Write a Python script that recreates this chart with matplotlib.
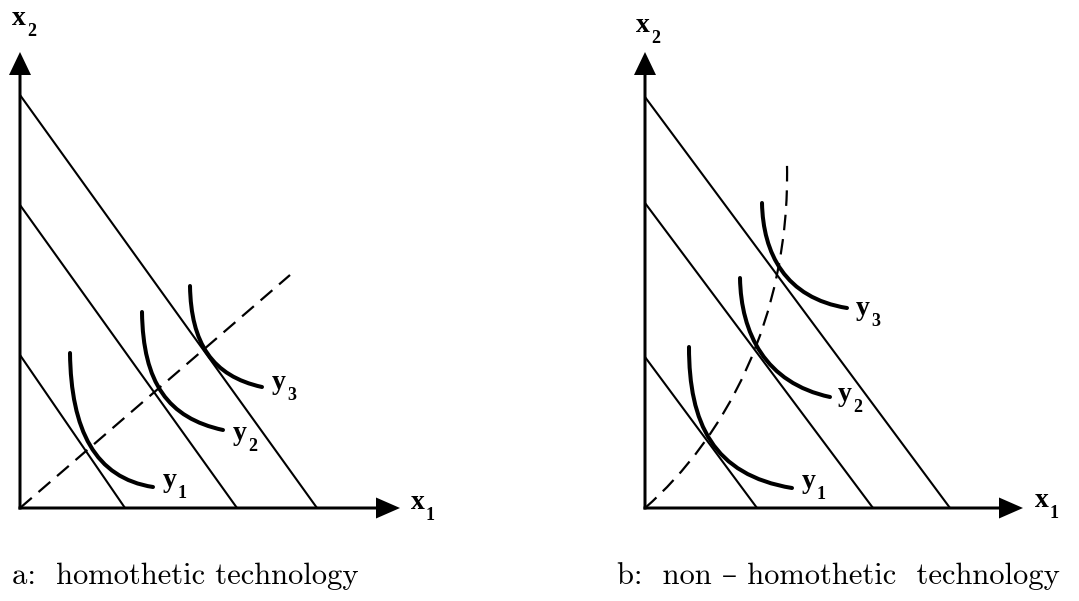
import matplotlib.pyplot as plt
from matplotlib.path import Path
from matplotlib.patches import PathPatch

# diagram units: 1 unit = 10 px, each panel's origin at the axes corner
# budget (isocost) lines: intercepts on x1 and x2 axes
left_budget_x = [10.5, 21.7, 29.7]
left_budget_y = [15.3, 30.3, 41.3]
right_budget_x = [11.2, 22.8, 30.5]
right_budget_y = [15.1, 30.5, 41.1]

# expansion paths (left: straight ray, right: cubic bezier control points)
left_expansion = [(0.0, 0.0), (27.0, 23.3)]
right_expansion = [(0.0, 0.0), (8.0, 7.0), (14.5, 19.0), (14.2, 34.3)]

# isoquants as cubic bezier control points
left_y1 = [(5.0, 15.5), (5.1, 7.8), (7.5, 3.0), (13.3, 2.1)]
left_y2 = [(12.2, 19.6), (12.3, 12.5), (14.8, 9.0), (20.3, 7.8)]
left_y3 = [(17.0, 22.2), (17.1, 16.5), (19.2, 13.2), (24.2, 12.1)]
right_y1 = [(4.4, 16.1), (4.4, 8.5), (6.8, 3.3), (14.7, 2.0)]
right_y2 = [(9.5, 23.0), (9.6, 17.5), (12.0, 12.5), (18.5, 11.1)]
right_y3 = [(11.7, 30.5), (11.8, 25.5), (14.0, 21.0), (20.2, 20.0)]

iso_names = ["1", "2", "3"]
captions = ["a:  homothetic technology", "b:  non \u2013 homothetic  technology"]

LABEL_FONT = dict(family="Liberation Serif", weight="bold", color="black")


def bezier(ax, pts, **kw):
    if len(pts) == 2:
        codes = [Path.MOVETO, Path.LINETO]
    else:
        codes = [Path.MOVETO, Path.CURVE4, Path.CURVE4, Path.CURVE4]
    ax.add_patch(PathPatch(Path(pts, codes), fill=False, **kw))


def sub_label(ax, x, y, main, sub):
    ax.text(x, y, main, ha="left", va="baseline", fontsize=20, **LABEL_FONT)
    ax.annotate(sub, (x, y), xytext=(10.8, -7.9), textcoords="offset points",
                ha="left", va="baseline", fontsize=13, **LABEL_FONT)


def draw_panel(ax, budget_x, budget_y, expansion, isoquants, x_tip, y_tip,
               x2_pos, x1_pos, y_pos):
    # axes with arrow heads
    ax.arrow(-0.15, 0, x_tip + 0.15, 0, width=0.3, head_width=2.1, head_length=2.4,
             length_includes_head=True, fc="black", ec="black", lw=0)
    ax.arrow(0, -0.15, 0, y_tip + 0.15, width=0.3, head_width=2.2, head_length=2.3,
             length_includes_head=True, fc="black", ec="black", lw=0)

    for bx, by in zip(budget_x, budget_y):
        ax.plot([0, bx], [by, 0], color="black", lw=1.5, solid_capstyle="butt")

    bezier(ax, expansion, color="black", lw=1.6, linestyle=(0, (7, 4)))

    for pts in isoquants:
        bezier(ax, pts, color="black", lw=2.9, capstyle="round")

    sub_label(ax, x2_pos[0], x2_pos[1], "x", "2")
    sub_label(ax, x1_pos[0], x1_pos[1], "x", "1")
    for (lx, ly), name in zip(y_pos, iso_names):
        sub_label(ax, lx, ly, "y", name)

    ax.set_axis_off()


fig = plt.figure(figsize=(10.79, 6.01), dpi=100)
W, H = 1079, 601

ax_l = fig.add_axes([0 / W, 1 - 540 / H, 540 / W, 540 / H])
ax_l.set_xlim(-2.0, 52.0)
ax_l.set_ylim(-3.2, 50.8)
draw_panel(ax_l, left_budget_x, left_budget_y, left_expansion,
           [left_y1, left_y2, left_y3], 38.0, 45.6,
           (-0.8, 48.3), (39.1, -0.1),
           [(14.3, 2.1), (21.3, 6.8), (25.2, 11.9)])

ax_r = fig.add_axes([560 / W, 1 - 540 / H, 519 / W, 540 / H])
ax_r.set_xlim(-8.5, 43.4)
ax_r.set_ylim(-3.2, 50.8)
draw_panel(ax_r, right_budget_x, right_budget_y, right_expansion,
           [right_y1, right_y2, right_y3], 37.8, 45.6,
           (-0.9, 47.6), (39.0, 0.1),
           [(15.7, 2.0), (19.3, 10.7), (21.1, 19.3)])

cap_font = dict(family=["cmr10", "DejaVu Serif"], fontsize=22, va="baseline", ha="left")
fig.text(12 / W, 1 - 584 / H, captions[0], **cap_font)
fig.text(617 / W, 1 - 584 / H, captions[1], **cap_font)

fig.savefig("out.png", dpi=100)
